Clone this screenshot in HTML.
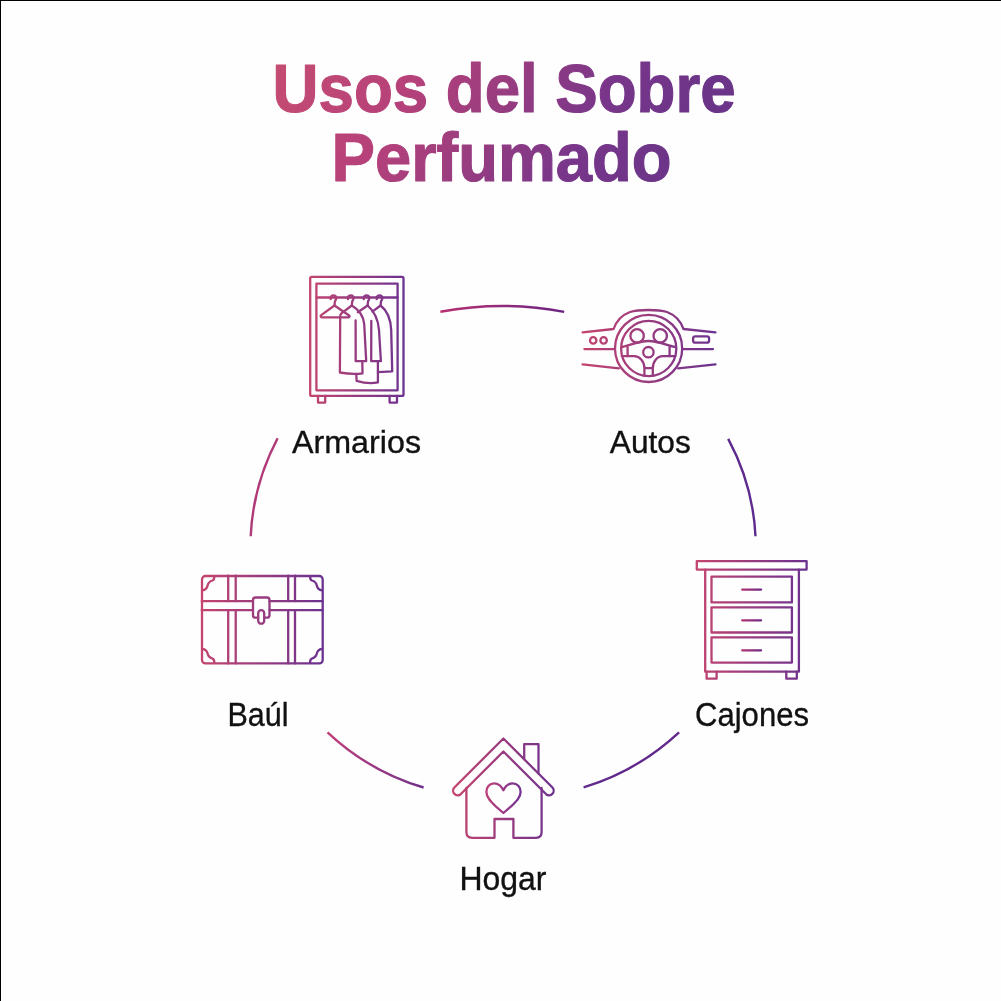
<!DOCTYPE html>
<html><head><meta charset="utf-8">
<style>
html,body{margin:0;padding:0;background:#fefefe;}
body{width:1001px;height:1001px;overflow:hidden;position:relative;}
svg{position:absolute;left:0;top:0;display:block;will-change:transform;}
text{font-family:"Liberation Sans",sans-serif;}
</style></head>
<body>
<svg width="1001" height="1001" viewBox="0 0 1001 1001">
<defs>
  <linearGradient id="tg" gradientUnits="userSpaceOnUse" x1="276" y1="76" x2="626" y2="268.4">
    <stop offset="0" stop-color="#c44c72"/>
    <stop offset="0.3" stop-color="#b6417a"/>
    <stop offset="0.5" stop-color="#9b3d7f"/>
    <stop offset="0.75" stop-color="#78368a"/>
    <stop offset="1" stop-color="#6a3488"/>
  </linearGradient>
  <linearGradient id="aTop" gradientUnits="userSpaceOnUse" x1="440" y1="0" x2="565" y2="0">
    <stop offset="0" stop-color="#b82f70"/><stop offset="1" stop-color="#6a2585"/>
  </linearGradient>
  <linearGradient id="aBL" gradientUnits="userSpaceOnUse" x1="327" y1="0" x2="424" y2="0">
    <stop offset="0" stop-color="#c0407a"/><stop offset="1" stop-color="#6f2f8a"/>
  </linearGradient>

  <linearGradient id="gW" gradientUnits="userSpaceOnUse" x1="309" y1="0" x2="405" y2="0">
    <stop offset="0" stop-color="#c4446e"/><stop offset="1" stop-color="#6b3290"/></linearGradient>
  <linearGradient id="gA" gradientUnits="userSpaceOnUse" x1="582" y1="0" x2="716" y2="0">
    <stop offset="0" stop-color="#c4446e"/><stop offset="1" stop-color="#6b3290"/></linearGradient>
  <linearGradient id="gC" gradientUnits="userSpaceOnUse" x1="696" y1="0" x2="807" y2="0">
    <stop offset="0" stop-color="#c4446e"/><stop offset="1" stop-color="#6b3290"/></linearGradient>
  <linearGradient id="gB" gradientUnits="userSpaceOnUse" x1="201" y1="0" x2="323" y2="0">
    <stop offset="0" stop-color="#c4446e"/><stop offset="1" stop-color="#6b3290"/></linearGradient>
  <linearGradient id="gH" gradientUnits="userSpaceOnUse" x1="453" y1="0" x2="557" y2="0">
    <stop offset="0" stop-color="#c4446e"/><stop offset="1" stop-color="#6b3290"/></linearGradient>
  <linearGradient id="gHeart" gradientUnits="userSpaceOnUse" x1="487" y1="0" x2="521" y2="0">
    <stop offset="0" stop-color="#bb407a"/><stop offset="1" stop-color="#723292"/></linearGradient>
  <linearGradient id="gHandle" gradientUnits="userSpaceOnUse" x1="742" y1="0" x2="761" y2="0">
    <stop offset="0" stop-color="#b03372"/><stop offset="1" stop-color="#702b84"/></linearGradient>
</defs>
<rect x="0" y="0" width="1001" height="1" fill="#000"/>
<rect x="0" y="0" width="1" height="1001" fill="#000"/>

<!-- title -->
<g fill="url(#tg)" stroke="url(#tg)" stroke-width="1.2" stroke-linejoin="round" font-weight="bold" font-size="69">
  <text x="272.6" y="112" textLength="463" lengthAdjust="spacingAndGlyphs">Usos del Sobre</text>
  <text x="331.6" y="181.4" textLength="340" lengthAdjust="spacingAndGlyphs">Perfumado</text>
</g>

<!-- labels -->
<g fill="#111" stroke="#111" stroke-width="0.35">
  <text x="292" y="452.8" font-size="31" textLength="129" lengthAdjust="spacingAndGlyphs">Armarios</text>
  <text x="609.8" y="452.6" font-size="31" textLength="81" lengthAdjust="spacingAndGlyphs">Autos</text>
  <text x="695" y="725.8" font-size="33" textLength="114" lengthAdjust="spacingAndGlyphs">Cajones</text>
  <text x="227.5" y="725.8" font-size="33" textLength="61" lengthAdjust="spacingAndGlyphs">Baúl</text>
  <text x="459.5" y="889.6" font-size="32.7" textLength="87" lengthAdjust="spacingAndGlyphs">Hogar</text>
</g>


<!-- icons -->
<g fill="none" stroke-width="2.3" stroke-linejoin="round" stroke-linecap="round">
 <!-- wardrobe -->
 <g stroke="url(#gW)">
  <rect x="310.2" y="276.9" width="93.3" height="119" rx="1.5"/>
  <rect x="316.4" y="283.7" width="81.2" height="106.6"/>
  <path d="M316.4 297.5 H397.6"/>
  <path d="M318 396 V402.6 H325.2 V396 M389.6 396 V402.6 H397 V396"/>
  <!-- hooks -->
  <path d="M330.6 299.2 C330.2 296.6 331.8 295.3 333.5 295.3 C335.3 295.3 336.6 296.6 336.3 298.4 C336.1 299.6 335.3 300.5 334.9 301.5 L334.5 305.5"/>
  <path d="M347.9 299.2 C347.5 296.6 349.1 295.3 350.8 295.3 C352.6 295.3 353.9 296.6 353.6 298.4 C353.4 299.6 352.6 300.5 352.2 301.5 L351.8 305.5"/>
  <path d="M363.7 299.2 C363.3 296.6 364.9 295.3 366.6 295.3 C368.4 295.3 369.7 296.6 369.4 298.4 C369.2 299.6 368.4 300.5 368.0 301.5 L367.6 305.5"/>
  <path d="M376.7 299.2 C376.3 296.6 377.9 295.3 379.6 295.3 C381.4 295.3 382.7 296.6 382.4 298.4 C382.2 299.6 381.4 300.5 381.0 301.5 L380.6 305.5"/>
  <!-- hanger triangle -->
  <path d="M334.5 305.5 L321.2 315.1 C320.2 315.9 320.6 317.3 321.8 317.3 L348.6 317.3 C349.6 317.3 350 316.2 349.1 315.5 Z"/>
  <!-- coat 1 -->
  <path d="M351.8 305.5 L341.4 313.4 C340.6 314.1 340.2 315.2 340.2 316.4 L339.9 372.5 C347 373.8 355 374.4 362.5 373.4 L362.3 361.3"/>
  <path d="M355.6 320.4 L355.7 361.2 H366.2 L364.2 324 C363.4 316 358.5 309.5 351.8 305.5"/>
  <!-- coat 2 -->
  <path d="M356.3 374.2 L356.6 380.8 C363.5 383 371 384 377.9 382.4 L377.9 361.3"/>
  <path d="M371.3 320.8 L371.2 361.2 H380.9 L379 330 C378.2 320 374 311 367.6 305.5 L357.8 312.2"/>
  <!-- coat 3 -->
  <path d="M377.9 372.2 L392.2 371.3 L391.2 330 C390.8 320 387.5 311 380.6 305.5 L372.4 311.6"/>
 </g>
 <!-- steering wheel -->
 <g stroke="url(#gA)">
  <path d="M582.6 332.4 L613.6 329 C616 322 622 315 630 312 C636 310.2 642 310 648.4 310 C655 310 661 310.2 667 312 C675 315 681 322 683.5 329 L715.5 332.4"/>
  <path d="M584.4 349.1 H614.8 M682.3 349.1 H713"/>
  <path d="M582.6 364.3 L618.8 368.3 M678.2 368.3 L715.5 364.3"/>
  <circle cx="648.6" cy="348.4" r="33.6"/>
  <circle cx="648.7" cy="348.5" r="27.6"/>
  <circle cx="637.1" cy="335.9" r="6.7"/>
  <circle cx="660.2" cy="335.9" r="6.7"/>
  <circle cx="648.4" cy="352.2" r="5.2"/>
  <path d="M621.8 347.2 C630 345.5 638 341 648.5 341 C659 341 667 345.5 675.6 347.2"/>
  <path d="M627.6 347.2 V356.2 M669.6 347.2 V356.2"/>
  <path d="M621.8 356.2 H634 C640 356.2 644.4 361.5 644.4 368.2 V375.8 M675.4 356.2 H663 C657 356.2 652.8 361.5 652.8 368.2 V375.8 M644.4 368.2 H652.8"/>
  <circle cx="593.2" cy="340.4" r="3.2"/>
  <circle cx="603.6" cy="340.4" r="3.2"/>
  <rect x="693.1" y="336.4" width="16" height="6.3" rx="2.2"/>
 </g>
 <!-- chest of drawers -->
 <g stroke="url(#gC)">
  <rect x="696.8" y="561.2" width="109.8" height="8.4"/>
  <path d="M705.2 569.6 V671.7 H798.9 V569.6"/>
  <rect x="711.5" y="576.6" width="80.4" height="25.8"/>
  <rect x="711.5" y="607.3" width="80.4" height="25.2"/>
  <rect x="711.5" y="637.4" width="80.4" height="25.2"/>
  <path stroke="url(#gHandle)" d="M742.2 589.6 H761.1 M742.2 620.3 H761.1 M742.2 650.3 H761.1"/>
  <path d="M706.6 671.7 V678.7 H716.6 V671.7 M786.3 671.7 V678.7 H796.8 V671.7"/>
 </g>
 <!-- trunk -->
 <g stroke="url(#gB)">
  <rect x="202" y="576" width="120.7" height="87.4" rx="3.4"/>
  <path d="M228.2 575.7 V601.2 M235.7 575.7 V601.2 M288.2 575.7 V601.2 M295 575.7 V601.2"/>
  <path d="M228.2 610.2 V663.4 M235.7 610.2 V663.4 M288.2 610.2 V663.4 M295 610.2 V663.4"/>
  <path d="M201.7 601.2 H253 M269.5 601.2 H322.7 M201.7 610.2 H253 M269.5 610.2 H322.7"/>
  <path d="M258.2 617.7 H255.5 Q253 617.7 253 615.2 V600 Q253 597.5 255.5 597.5 H267 Q269.5 597.5 269.5 600 V615.2 Q269.5 617.7 267 617.7 H264.2"/>
  <rect x="258.2" y="610.2" width="6" height="13.5" rx="3"/>
  <path d="M202.3 590.3 C205.0 590.0 207.0 588.5 207.6 585.5 C208.2 582.5 210.0 581.2 212.5 580.5 C214.0 580.0 214.4 578.5 214.3 576.2"/>
  <path d="M322.1 590.3 C319.4 590.0 317.4 588.5 316.8 585.5 C316.2 582.5 314.4 581.2 311.9 580.5 C310.4 580.0 310.0 578.5 310.1 576.2"/>
  <path d="M202.3 648.8 C205.0 649.1 207.0 650.6 207.6 653.6 C208.2 656.6 210.0 657.9 212.5 658.6 C214.0 659.1 214.4 660.6 214.3 662.9"/>
  <path d="M322.1 648.8 C319.4 649.1 317.4 650.6 316.8 653.6 C316.2 656.6 314.4 657.9 311.9 658.6 C310.4 659.1 310.0 660.6 310.1 662.9"/>
 </g>
 <!-- house -->
 <g stroke="url(#gH)">
  <path d="M460.85 794.05 L503.4 751.5 L545.95 794.05 A4.6 4.6 0 0 0 552.45 787.55 L503.4 738.5 L454.35 787.55 A4.6 4.6 0 0 0 460.85 794.05 Z"/>
  <path d="M466.4 788 V832 Q466.4 837.8 472 837.8 H494.5 V819 H513.4 V837.8 H536 Q541.6 837.8 541.6 832 V788"/>
  <path d="M524.2 759.3 V744.1 H538.5 V773.6"/>
  <path stroke="url(#gHeart)" d="M503.4 790.2 C501.2 785.6 497.8 783.3 494.2 783.3 C489.6 783.3 486.4 787 486.4 792 C486.4 797.6 491 802 496 806.6 L503.4 813 L510.8 806.6 C515.8 802 520.6 797.6 520.6 792 C520.6 787 517.2 783.3 512.6 783.3 C509 783.3 505.6 785.6 503.4 790.2 Z"/>
 </g>
</g>

<!-- arcs -->
<g fill="none" stroke-width="2.4" stroke-linecap="butt">
  <path d="M440.4 311.8 Q503 300 564.2 311.9" stroke="url(#aTop)"/>
  <path d="M277.6 438.2 Q253 485 250.7 536.2" stroke="#b03a78"/>
  <path d="M728.2 438.9 Q753 485 755.5 536.2" stroke="#5e2a8e"/>
  <path d="M327.5 732.3 Q370 772 423.6 787.5" stroke="url(#aBL)"/>
  <path d="M583.6 787.3 Q636 772 679.1 732.3" stroke="#62298c"/>
</g>
</svg>
</body></html>
